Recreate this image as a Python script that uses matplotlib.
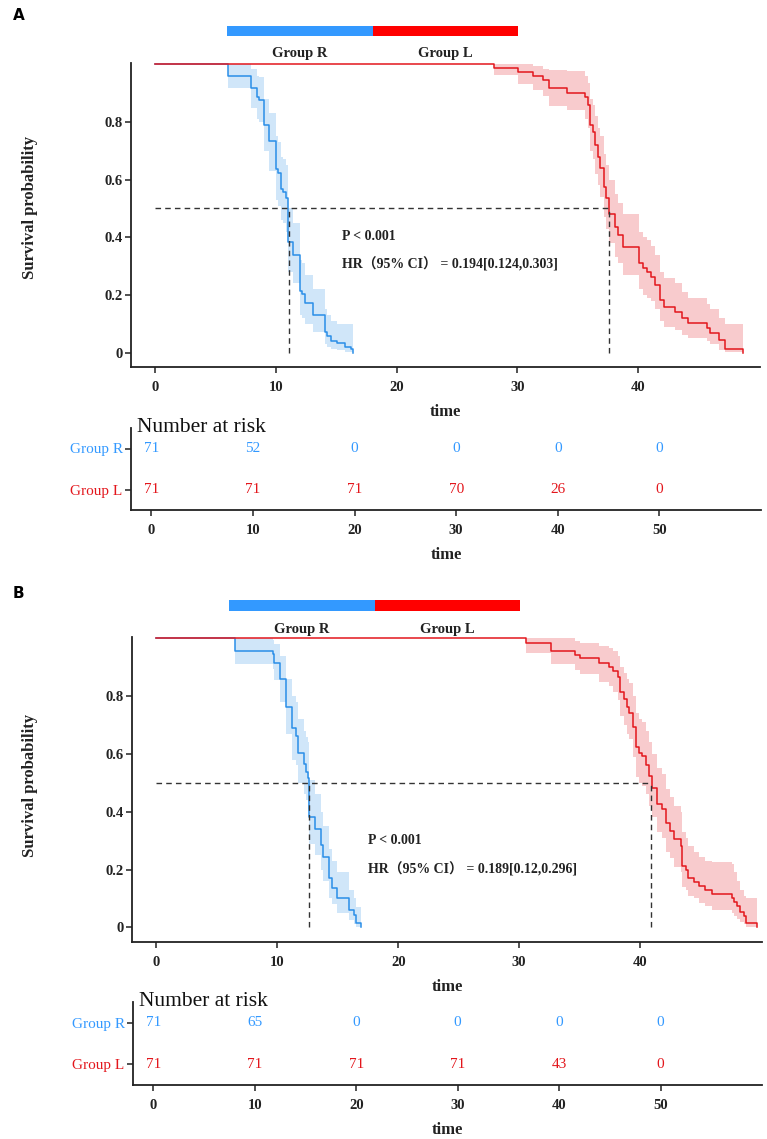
import matplotlib
matplotlib.use('Agg')
import matplotlib.pyplot as plt
from matplotlib.patches import Rectangle

plt.rcParams['font.family'] = ['Liberation Serif', 'DejaVu Serif']

W, H = 767, 1139
BAR_BLUE = '#3399ff'
BAR_RED = '#ff0000'
LINE_BLUE = '#2a8ee8'
LINE_RED = '#e3161c'
INK = '#222222'

groups = ['Group R', 'Group L']
risk_times = [0, 10, 20, 30, 40, 50]

# ---- panel A : Kaplan-Meier steps
a_r_time = [0, 6.0, 7.95, 8.47, 8.6, 9.03, 9.47, 10.0, 10.2, 10.41, 10.63, 10.82, 10.99,
            11.38, 12.0, 12.2, 12.43, 13.04, 14.03, 14.22, 14.55, 15.05, 15.74, 16.24, 16.35]
a_r_surv = [1.0, .959, .916, .885, .876, .789, .734, .637, .622, .567, .558, .535, .383,
            .339, .214, .202, .171, .131, .073, .058, .041, .032, .021, .012, 0.0]
a_r_lo = [1.0, .916, .85, .81, .80, .70, .63, .53, .51, .46, .45, .42, .28,
          .24, .13, .12, .10, .07, .03, .02, .012, .008, .004, .002, 0.0]
a_r_hi = [1.0, 1.0, .985, .96, .955, .88, .83, .75, .73, .68, .67, .65, .50,
          .45, .32, .31, .27, .22, .15, .13, .11, .10, .10, .10, 0.0]

a_l_time = [0, 28.08, 30.05, 31.26, 32.09, 32.64, 34.1, 35.62, 35.82, 36.04, 36.23, 36.45,
            36.65, 36.87, 37.14, 37.34, 37.56, 38.06, 38.33, 38.75, 40.05, 40.4, 40.73,
            41.07, 41.43, 41.78, 42.17, 43.08, 43.63, 44.1, 45.7, 45.98, 46.67, 47.17, 48.66]
a_l_surv = [1.0, .986, .972, .960, .945, .916, .901, .887, .858, .789, .764, .720,
            .679, .639, .575, .535, .480, .436, .408, .367, .310, .292, .279,
            .263, .234, .183, .160, .142, .119, .102, .085, .067, .044, .013, 0.0]
a_l_lo = [1.0, .963, .93, .91, .89, .855, .84, .81, .78, .70, .67, .62,
          .58, .54, .47, .43, .38, .33, .31, .27, .22, .20, .19,
          .18, .15, .11, .09, .08, .06, .05, .04, .03, .01, .002, 0.0]
a_l_hi = [1.0, 1.0, 1.0, .995, .985, .98, .975, .96, .935, .88, .86, .82,
          .78, .75, .69, .65, .60, .55, .52, .48, .42, .40, .39,
          .37, .34, .28, .26, .24, .21, .19, .17, .15, .12, .10, 0.0]

a_medians = [11.05, 37.56]
a_risk_r = [71, 52, 0, 0, 0, 0]
a_risk_l = [71, 71, 71, 70, 26, 0]
a_p_text = 'P < 0.001'
a_hr_text = 'HR（95% CI） = 0.194[0.124,0.303]'

# ---- panel B
b_r_time = [0, 6.49, 9.6, 9.74, 10.2, 10.68, 11.23, 11.53, 11.72, 12.22, 12.41, 12.5,
            12.62, 13.15, 13.59, 13.78, 14.25, 14.52, 14.94, 15.91, 16.35, 16.54, 16.96]
b_r_surv = [1.0, .957, .946, .916, .860, .761, .688, .662, .604, .564, .539, .515,
            .383, .339, .285, .242, .170, .135, .100, .060, .042, .014, 0.0]
b_r_lo = [1.0, .91, .895, .855, .78, .67, .58, .56, .50, .46, .44, .41,
          .29, .25, .20, .16, .10, .08, .05, .025, .012, .002, 0.0]
b_r_hi = [1.0, 1.0, .995, .98, .94, .86, .80, .78, .72, .68, .66, .64,
          .51, .46, .40, .35, .27, .23, .19, .13, .10, .07, 0.0]

b_l_time = [0, 30.6, 32.66, 34.64, 35.08, 36.6, 37.42, 37.8, 38.17, 38.39, 38.66, 38.91,
            39.13, 39.41, 39.68, 39.9, 40.18, 40.51, 40.73, 41.0, 41.42, 41.83, 42.16,
            42.52, 42.85, 43.4, 43.48, 43.82, 44.0, 44.45, 44.92, 45.42, 45.94, 47.62,
            47.81, 48.03, 48.28, 48.64, 48.78, 49.66]
b_l_surv = [1.0, .983, .957, .942, .931, .916, .902, .888, .865, .815, .789, .761,
            .743, .692, .623, .604, .593, .562, .524, .481, .427, .408, .360,
            .333, .304, .281, .212, .198, .170, .158, .143, .129, .114, .100,
            .089, .074, .054, .039, .014, 0.0]
b_l_lo = [1.0, .95, .91, .89, .875, .85, .835, .815, .785, .73, .70, .67,
          .65, .59, .52, .50, .49, .46, .42, .38, .33, .31, .26,
          .24, .21, .19, .14, .13, .11, .10, .085, .075, .06, .05,
          .04, .03, .02, .01, .002, 0.0]
b_l_hi = [1.0, 1.0, 1.0, .99, .985, .975, .965, .955, .94, .90, .88, .86,
          .845, .80, .74, .72, .71, .68, .64, .60, .55, .53, .48,
          .45, .42, .40, .33, .31, .28, .26, .245, .23, .225, .22,
          .19, .16, .13, .11, .10, 0.0]

b_medians = [12.6, 40.9]
b_risk_r = [71, 65, 0, 0, 0, 0]
b_risk_l = [71, 71, 71, 71, 43, 0]
b_p_text = 'P < 0.001'
b_hr_text = 'HR（95% CI） = 0.189[0.12,0.296]'


def px_axes(fig, l, t, r, b):
    return fig.add_axes([l / W, 1 - b / H, (r - l) / W, (b - t) / H])


def ftext(fig, x, y, s, **kw):
    return fig.text(x / W, 1 - y / H, s, **kw)


def style_axes(ax):
    for s in ['top', 'right']:
        ax.spines[s].set_visible(False)
    for s in ['left', 'bottom']:
        ax.spines[s].set_linewidth(1.3)
        ax.spines[s].set_color(INK)
    ax.tick_params(length=4, width=1.1, color=INK, labelcolor=INK, labelsize=10.5)


def draw_panel(fig, g, curves, medians, risk_r, risk_l, p_text, hr_text):

    # legend bar above the plot
    fig.add_artist(Rectangle((g['bar_x'][0] / W, 1 - g['bar_y'][1] / H),
                             (g['bar_x'][1] - g['bar_x'][0]) / W,
                             (g['bar_y'][1] - g['bar_y'][0]) / H,
                             transform=fig.transFigure, color=BAR_BLUE, lw=0))
    fig.add_artist(Rectangle((g['bar_x'][1] / W, 1 - g['bar_y'][1] / H),
                             (g['bar_x'][2] - g['bar_x'][1]) / W,
                             (g['bar_y'][1] - g['bar_y'][0]) / H,
                             transform=fig.transFigure, color=BAR_RED, lw=0))
    for i, name in enumerate(groups):
        ftext(fig, g['leg_x'][i], g['leg_y'], name, ha='center', va='center',
              fontsize=10.5, fontweight='bold', color=INK)

    ftext(fig, 13, g['letter_y'], g['letter'], ha='left', va='center',
          fontsize=11, fontweight='bold', family='DejaVu Sans')

    # survival plot
    ax = px_axes(fig, *g['km'])
    style_axes(ax)
    for (t, s, lo, hi), col in zip(curves, [LINE_BLUE, LINE_RED]):
        ax.fill_between(t, lo, hi, step='post', color=col, alpha=0.22, lw=0)
    for (t, s, lo, hi), col in zip(curves, [LINE_BLUE, LINE_RED]):
        ax.step(t, s, where='post', color=col, lw=1.1, clip_on=False)

    ax.plot([0, medians[1]], [0.5, 0.5], ls=(0, (4, 3)), color='#333333', lw=1)
    for m in medians:
        ax.plot([m, m], [0, 0.5], ls=(0, (4, 3)), color='#333333', lw=1)

    ax.set_xlim(g['km_xlim'])
    ax.set_ylim(-0.05, 1.005)
    ax.set_xticks([0, 10, 20, 30, 40])
    ax.set_yticks([0, 0.2, 0.4, 0.6, 0.8])
    ax.set_yticklabels(['0', '0.2', '0.4', '0.6', '0.8'])
    ax.tick_params(axis='x', pad=6)
    ax.tick_params(axis='y', pad=2)
    for lab in ax.get_xticklabels() + ax.get_yticklabels():
        lab.set_fontweight('bold')

    ftext(fig, g['ann'][0], g['ann'][1], p_text, ha='left', va='center',
          fontsize=10, fontweight='bold', color=INK)
    ftext(fig, g['ann'][0], g['ann'][2], hr_text, ha='left', va='center',
          fontsize=10, fontweight='bold', color=INK,
          family=['Liberation Serif', 'Noto Sans CJK SC'])

    ftext(fig, 30, g['ylab_y'], 'Survival probability', rotation=90,
          ha='center', va='center', fontsize=12, fontweight='bold', color=INK)
    ftext(fig, (g['km'][0] + g['km'][2]) / 2, g['time_y'][0], 'time',
          ha='center', va='center', fontsize=12, fontweight='bold', color=INK)

    # risk table
    rt = px_axes(fig, *g['risk'])
    style_axes(rt)
    rt.set_xlim(-2, 60)
    rt.set_ylim(-0.5, 1.5)
    rt.set_xticks(risk_times)
    rt.set_yticks([1, 0])
    rt.set_yticklabels(groups, fontsize=11)
    rt.tick_params(axis='x', pad=6)
    rt.tick_params(axis='y', pad=2)
    for lab in rt.get_xticklabels():
        lab.set_fontweight('bold')
    for lab, col in zip(rt.get_yticklabels(), [BAR_BLUE, LINE_RED]):
        lab.set_color(col)
    for x, n in zip(risk_times, risk_r):
        rt.text(x, 1, str(n), ha='center', va='center', fontsize=11, color=BAR_BLUE)
    for x, n in zip(risk_times, risk_l):
        rt.text(x, 0, str(n), ha='center', va='center', fontsize=11, color=LINE_RED)
    rt.text(0.01, 1.0, 'Number at risk', transform=rt.transAxes, ha='left',
            va='center', fontsize=15.5, color='#111111')
    ftext(fig, (g['risk'][0] + g['risk'][2]) / 2, g['time_y'][1], 'time',
          ha='center', va='center', fontsize=12, fontweight='bold', color=INK)


geo_a = {'letter': 'A', 'letter_y': 15,
         'bar_x': [227, 373, 518], 'bar_y': [26, 36],
         'leg_x': [300, 445], 'leg_y': 53,
         'km': (131, 62.8, 760, 367.1), 'km_xlim': (-2, 50.1),
         'risk': (131, 428, 761, 510),
         'ann': (342, 236, 264), 'ylab_y': 207, 'time_y': (412, 555)}

geo_b = {'letter': 'B', 'letter_y': 593,
         'bar_x': [229, 375, 520], 'bar_y': [600, 611],
         'leg_x': [302, 447], 'leg_y': 629,
         'km': (132.3, 636.9, 762, 941.75), 'km_xlim': (-2, 50.1),
         'risk': (133, 1002, 762, 1085),
         'ann': (368, 841, 869), 'ylab_y': 785, 'time_y': (987, 1130)}

fig = plt.figure(figsize=(W / 100, H / 100), dpi=100)

draw_panel(fig, geo_a,
           [(a_r_time, a_r_surv, a_r_lo, a_r_hi), (a_l_time, a_l_surv, a_l_lo, a_l_hi)],
           a_medians, a_risk_r, a_risk_l, a_p_text, a_hr_text)
draw_panel(fig, geo_b,
           [(b_r_time, b_r_surv, b_r_lo, b_r_hi), (b_l_time, b_l_surv, b_l_lo, b_l_hi)],
           b_medians, b_risk_r, b_risk_l, b_p_text, b_hr_text)

fig.savefig('out.png', dpi=100)
